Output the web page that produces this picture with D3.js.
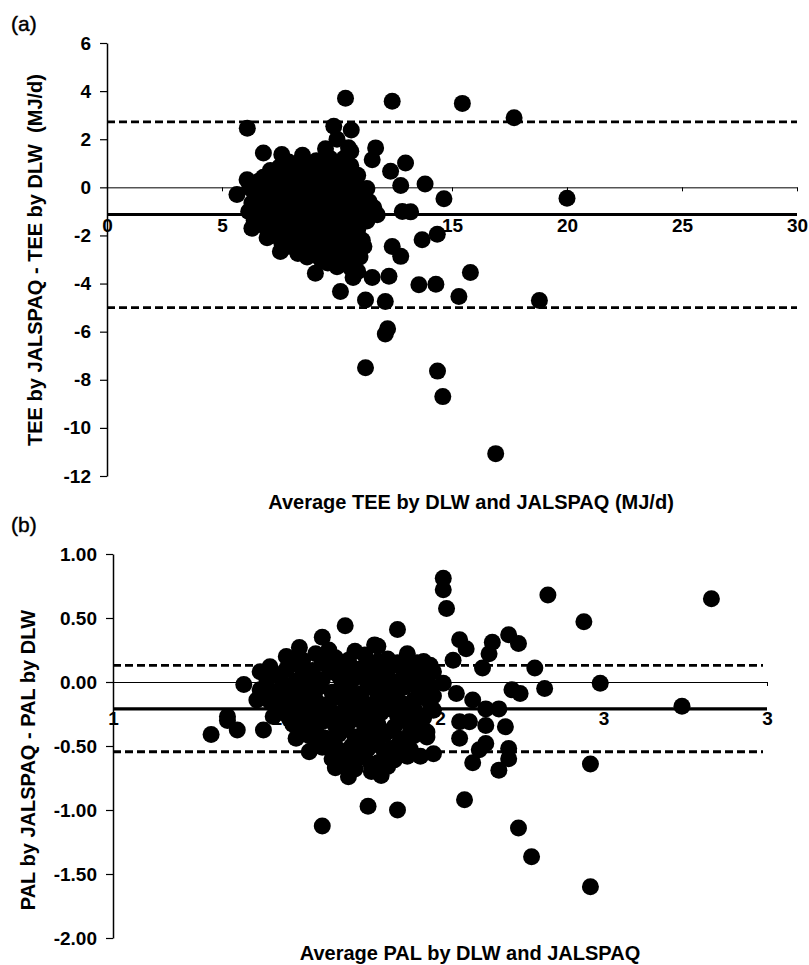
<!DOCTYPE html>
<html>
<head>
<meta charset="utf-8">
<script src="https://cdn.jsdelivr.net/npm/d3@7"></script>
<style>
body { margin: 0; background: #fff; }
svg text { font-family: "Liberation Sans", Arial, Helvetica, sans-serif; fill: #000; }
.tick text { font-weight: bold; font-size: 19px; }
.title { font-weight: bold; font-size: 20px; }
</style>
</head>
<body>
<div id="svgHolderDiv"></div>
<script>
"use strict";

// (a) TEE: [average of DLW and JALSPAQ, JALSPAQ - DLW], MJ/d
var teePoints = [
    [6.1,2.46],[9.86,2.54],[10.37,3.7],[10.62,2.38],[12.4,3.58],[15.45,3.49],[17.7,2.89],[20.0,-0.45],
    [11.68,1.64],[11.53,1.15],[12.98,1.01],[12.33,0.67],[12.77,0.08],[13.83,0.14],[14.65,-0.47],
    [12.84,-1.0],[13.2,-1.02],[11.75,-1.14],[11.3,-1.4],[14.36,-1.95],[13.7,-2.18],[12.4,-2.46],[12.77,-2.87],[11.17,-2.46],
    [10.9,-3.5],[10.7,-3.75],[11.53,-3.75],[12.26,-3.7],[13.56,-4.05],[14.3,-4.03],[15.8,-3.54],[15.3,-4.54],[18.8,-4.7],
    [10.15,-4.33],[9.06,-3.57],[11.24,-4.68],[12.1,-4.75],[12.1,-6.1],[12.2,-5.88],[11.24,-7.5],[14.37,-7.64],[14.6,-8.7],[16.9,-11.07],
    [7.54,-2.67],[6.8,1.43],[7.6,1.36],[8.5,1.33],[6.09,0.32],[5.65,-0.3],[6.16,-1.0],[6.3,-1.7],[6.96,-2.1],
    [10.6,1.5],[11.0,-0.3],[9.5,1.6],[10.5,1.65],[10.0,2.0],[10.3,1.2],
    [7.9,1.05],[8.5,1.15],[9.1,1.1],[9.7,1.2],[10.2,0.95],
    [7.5,0.85],[8.2,0.9],[8.8,0.82],[9.4,0.88],[10.0,0.8],[10.6,0.9],
    [7.1,0.7],[7.6,0.6],[8.1,0.7],[8.7,0.62],[9.2,0.72],[9.8,0.58],[10.4,0.66],[10.9,0.5],
    [6.8,0.42],[7.3,0.38],[7.9,0.45],[8.4,0.4],[9.0,0.36],[9.5,0.42],[10.1,0.4],[10.6,0.35],
    [6.6,0.25],[7.1,0.15],[7.6,0.22],[8.2,0.18],[8.7,0.26],[9.3,0.12],[9.8,0.2],[10.3,0.15],[10.9,0.05],[11.3,-0.05],
    [6.2,-0.02],[6.7,-0.08],[7.2,-0.04],[7.8,-0.06],[8.3,0.0],[8.8,-0.1],[9.4,-0.03],[9.9,-0.07],[10.4,-0.02],[11.0,-0.1],
    [6.4,-0.2],[6.9,-0.3],[7.4,-0.22],[8.0,-0.28],[8.5,-0.18],[9.0,-0.3],[9.6,-0.24],[10.1,-0.35],[10.6,-0.2],[11.2,-0.5],
    [6.5,-0.48],[7.1,-0.52],[7.6,-0.45],[8.1,-0.5],[8.7,-0.47],[9.2,-0.53],[9.7,-0.46],[10.3,-0.5],[10.8,-0.45],[11.4,-0.6],
    [6.3,-0.65],[6.8,-0.75],[7.3,-0.68],[7.8,-0.72],[8.4,-0.6],[8.9,-0.78],[9.4,-0.7],[10.0,-0.66],[10.5,-0.8],[11.0,-0.72],[11.6,-0.85],
    [6.3,-0.95],[6.9,-0.92],[7.4,-0.98],[7.9,-0.94],[8.5,-0.97],[9.0,-0.92],[9.5,-0.96],[10.1,-0.93],[10.6,-0.98],[11.2,-0.95],
    [6.6,-1.2],[7.1,-1.1],[7.6,-1.18],[8.2,-1.12],[8.7,-1.25],[9.2,-1.1],[9.8,-1.2],[10.3,-1.15],[10.8,-1.05],
    [6.4,-1.38],[6.9,-1.42],[7.4,-1.36],[8.0,-1.4],[8.5,-1.38],[9.1,-1.42],[9.6,-1.37],[10.1,-1.4],[10.7,-1.35],
    [6.7,-1.55],[7.2,-1.65],[7.8,-1.58],[8.3,-1.62],[8.8,-1.5],[9.4,-1.68],[9.9,-1.6],[10.4,-1.55],[10.9,-1.75],
    [7.0,-1.85],[7.5,-1.82],[8.1,-1.88],[8.6,-1.84],[9.1,-1.86],[9.7,-1.83],[10.2,-1.87],[10.8,-1.9],
    [7.3,-2.0],[7.9,-2.1],[8.4,-2.05],[8.9,-2.15],[9.5,-2.0],[10.0,-2.1],[10.6,-2.02],[11.1,-2.2],
    [7.6,-2.3],[8.2,-2.28],[8.7,-2.32],[9.3,-2.27],[9.8,-2.33],[10.4,-2.3],[10.9,-2.35],
    [7.9,-2.45],[8.5,-2.55],[9.0,-2.5],[9.6,-2.6],[10.1,-2.48],[10.7,-2.55],
    [8.3,-2.75],[8.9,-2.73],[9.5,-2.78],[10.2,-2.74],[10.8,-2.77],
    [8.7,-2.9],[9.3,-3.0],[9.9,-2.95],[10.5,-3.05],[11.0,-2.9],
    [9.6,-3.15],[10.3,-3.18],
    [10.0,-3.3],[10.6,-3.35]
];
var teeBias = -1.13;
var teeLimits = [2.72, -5.0];
var teeXTicks = [0, 5, 10, 15, 20, 25, 30];
var teeYTicks = [-12, -10, -8, -6, -4, -2, 0, 2, 4, 6];

// (b) PAL: [average of DLW and JALSPAQ, JALSPAQ - DLW]
var palPoints = [
    [1.30,-0.41],[1.35,-0.27],[1.35,-0.30],[1.38,-0.375],[1.46,-0.375],[1.40,-0.02],[1.45,0.08],[1.44,-0.14],[1.49,-0.27],[1.54,-0.19],
    [1.56,-0.44],[1.60,-0.545],[1.68,-0.67],[1.72,-0.74],[1.82,-0.73],[1.64,-1.125],[1.78,-0.97],[1.87,-1.0],[2.075,-0.92],
    [2.24,-1.14],[2.28,-1.365],[2.46,-1.60],[2.46,-0.64],[2.74,-0.19],[2.10,-0.63],[2.12,-0.53],[2.18,-0.69],[2.21,-0.6],[2.21,-0.52],
    [2.20,-0.35],[2.14,-0.34],[2.14,-0.48],[2.06,-0.44],[2.06,-0.31],[2.09,-0.31],[1.94,-0.58],[1.98,-0.56],[1.90,-0.58],[1.85,-0.52],[1.96,-0.43],[1.88,-0.45],
    [2.01,0.81],[2.01,0.72],[2.02,0.575],[2.33,0.68],[2.83,0.65],[2.44,0.47],[1.87,0.41],[1.71,0.44],[1.64,0.35],[1.66,0.25],
    [1.81,0.28],[1.57,0.27],[1.74,0.24],[1.89,0.16],[1.93,0.15],
    [2.06,0.33],[2.08,0.26],[2.16,0.31],[2.21,0.37],[2.24,0.30],[2.15,0.22],[2.04,0.17],[2.13,0.11],[2.29,0.11],[2.49,-0.01],
    [2.32,-0.05],[2.22,-0.06],[2.245,-0.09],[2.05,-0.09],[2.10,-0.14],[2.18,-0.21],[2.14,-0.21],[1.95,0.16],[1.98,0.08],[2.01,-0.01],
    [1.92,-0.14],[1.98,-0.11],[1.97,0.13],[1.80,0.29],
    [1.53,0.2],[1.58,0.17],[1.62,0.22],[1.68,0.19],[1.77,0.21],[1.84,0.18],[1.90,0.22],
    [1.55,0.16],[1.64,0.15],[1.72,0.17],[1.81,0.16],[1.87,0.15],
    [1.48,0.12],[1.53,0.1],[1.57,0.13],[1.61,0.09],[1.66,0.12],[1.70,0.14],[1.75,0.1],[1.79,0.13],[1.84,0.09],[1.88,0.12],[1.93,0.07],
    [1.49,0.07],[1.58,0.06],[1.67,0.08],[1.72,0.07],[1.80,0.06],[1.89,0.08],[1.96,0.05],
    [1.47,0.03],[1.51,0.05],[1.56,0.01],[1.60,0.04],[1.64,0.02],[1.69,0.05],[1.73,0.01],[1.77,0.03],[1.82,0.05],[1.86,0.0],[1.91,0.03],[1.95,0.02],
    [1.47,-0.02],[1.52,-0.01],[1.62,-0.03],[1.70,-0.02],[1.78,-0.01],[1.83,-0.03],[1.92,-0.02],[1.97,-0.03],
    [1.45,-0.06],[1.50,-0.08],[1.54,-0.05],[1.59,-0.07],[1.63,-0.04],[1.67,-0.08],[1.72,-0.06],[1.76,-0.09],[1.80,-0.05],[1.85,-0.07],[1.89,-0.04],[1.94,-0.07],
    [1.46,-0.11],[1.55,-0.1],[1.60,-0.12],[1.69,-0.11],[1.73,-0.1],[1.81,-0.12],[1.86,-0.11],[1.95,-0.12],
    [1.48,-0.15],[1.53,-0.13],[1.57,-0.16],[1.62,-0.14],[1.66,-0.17],[1.70,-0.13],[1.75,-0.15],[1.79,-0.18],[1.83,-0.14],[1.88,-0.16],[1.92,-0.2],[1.97,-0.17],
    [1.50,-0.2],[1.59,-0.19],[1.64,-0.21],[1.72,-0.2],[1.77,-0.19],[1.85,-0.21],[1.90,-0.2],[1.98,-0.22],
    [1.52,-0.24],[1.56,-0.22],[1.61,-0.26],[1.65,-0.23],[1.69,-0.25],[1.74,-0.22],[1.78,-0.27],[1.82,-0.24],[1.87,-0.26],[1.91,-0.23],[1.95,-0.28],
    [1.54,-0.29],[1.58,-0.28],[1.67,-0.3],[1.75,-0.29],[1.80,-0.28],[1.89,-0.3],[1.93,-0.29],
    [1.55,-0.33],[1.60,-0.35],[1.64,-0.31],[1.68,-0.34],[1.72,-0.32],[1.77,-0.36],[1.81,-0.33],[1.86,-0.35],[1.90,-0.31],[1.94,-0.36],
    [1.57,-0.38],[1.62,-0.39],[1.70,-0.38],[1.79,-0.37],[1.84,-0.39],[1.91,-0.38],[1.96,-0.39],
    [1.60,-0.42],[1.65,-0.44],[1.69,-0.41],[1.74,-0.43],[1.79,-0.45],[1.83,-0.41],[1.88,-0.45],[1.92,-0.42],
    [1.62,-0.47],[1.67,-0.48],[1.76,-0.47],[1.81,-0.49],[1.90,-0.48],
    [1.64,-0.51],[1.69,-0.53],[1.73,-0.5],[1.78,-0.52],[1.83,-0.55],[1.87,-0.5],[1.91,-0.53],
    [1.70,-0.56],[1.75,-0.57],[1.84,-0.56],[1.89,-0.55],
    [1.67,-0.6],[1.72,-0.62],[1.77,-0.59],[1.81,-0.63],[1.86,-0.61],
    [1.70,-0.64],[1.79,-0.65],[1.84,-0.66],
    [1.74,-0.68],[1.79,-0.7]
];
var palBias = -0.21;
var palLimits = [0.13, -0.545];
var palXTicks = [1, 1.5, 2, 2.5, 3];
var palYTicks = [-2, -1.5, -1, -0.5, 0, 0.5, 1];

var svg = d3.select("#svgHolderDiv").append("svg")
    .attr("width", 809)
    .attr("height", 965);

function drawPanel(p) {
    var x = d3.scaleLinear().domain(p.xDomain).range(p.xRange),
        y = d3.scaleLinear().domain(p.yDomain).range(p.yRange);
    var g = svg.append("g");

    // y axis
    var yAx = g.append("g")
        .attr("transform", "translate(" + p.xRange[0] + ",0)")
        .call(d3.axisLeft(y).tickValues(p.yTicks).tickSize(7).tickPadding(9)
            .tickSizeOuter(0).tickFormat(p.yFormat));
    yAx.select(".domain").attr("stroke-width", 1.5);
    yAx.selectAll(".tick line").attr("stroke-width", 1.2);

    // thin zero line with ticks
    var zAx = g.append("g")
        .attr("transform", "translate(0," + y(0) + ")")
        .call(d3.axisBottom(x).tickValues(p.xTicks).tickSize(4).tickSizeOuter(0).tickFormat(""));
    zAx.select(".domain").attr("stroke-width", 1);

    // tick labels sit under the mean line
    var lAx = g.append("g")
        .attr("transform", "translate(0," + y(p.bias) + ")")
        .call(d3.axisBottom(x).tickValues(p.xTicks).tickSize(0).tickPadding(p.labelPad).tickFormat(p.xFormat));
    lAx.select(".domain").remove();

    // mean difference
    g.append("line")
        .attr("x1", x(p.xDomain[0])).attr("x2", x(p.xDomain[1]))
        .attr("y1", y(p.bias)).attr("y2", y(p.bias))
        .attr("stroke", "#000").attr("stroke-width", 3.2);

    // limits of agreement
    g.selectAll(".loa")
        .data(p.limits)
        .enter().append("line")
        .attr("class", "loa")
        .attr("x1", x(p.xDomain[0])).attr("x2", p.dashEnd)
        .attr("y1", function (d) { return y(d); })
        .attr("y2", function (d) { return y(d); })
        .attr("stroke", "#000").attr("stroke-width", 2.8)
        .attr("stroke-dasharray", "8,4");

    g.selectAll(".dot")
        .data(p.points)
        .enter().append("circle")
        .attr("class", "dot")
        .attr("cx", function (d) { return x(d[0]); })
        .attr("cy", function (d) { return y(d[1]); })
        .attr("r", 8.5)
        .attr("fill", "#000");

    g.append("text")
        .attr("class", "title")
        .attr("x", p.xTitlePos[0]).attr("y", p.xTitlePos[1])
        .attr("text-anchor", "middle")
        .text(p.xTitle);

    g.append("text")
        .attr("class", "title")
        .attr("transform", "translate(" + p.yTitlePos[0] + "," + p.yTitlePos[1] + ") rotate(-90)")
        .attr("text-anchor", "middle")
        .style("white-space", "pre")
        .text(p.yTitle);

    g.append("text")
        .attr("x", 11).attr("y", p.tagY)
        .attr("font-size", "21px")
        .attr("stroke", "#000").attr("stroke-width", 0.4)
        .text(p.tag);
}

drawPanel({
    points: teePoints, bias: teeBias, limits: teeLimits,
    xTicks: teeXTicks, yTicks: teeYTicks,
    xDomain: [0, 30], xRange: [107, 797],
    yDomain: [-12, 6], yRange: [476, 43],
    xFormat: function (d) { return String(d); },
    yFormat: function (d) { return String(d); },
    labelPad: 4, dashEnd: 797,
    xTitle: "Average TEE by DLW and JALSPAQ (MJ/d)", xTitlePos: [471, 509],
    yTitle: "TEE by JALSPAQ - TEE by DLW  (MJ/d)", yTitlePos: [42, 260],
    tag: "(a)", tagY: 31
});

drawPanel({
    points: palPoints, bias: palBias, limits: palLimits,
    xTicks: palXTicks, yTicks: palYTicks,
    xDomain: [1, 3], xRange: [113, 767],
    yDomain: [-2, 1], yRange: [938, 554],
    xFormat: function (d) { return d.toFixed(0); },
    yFormat: function (d) { return d.toFixed(2); },
    labelPad: 3, dashEnd: 763,
    xTitle: "Average PAL by DLW and JALSPAQ", xTitlePos: [470, 960],
    yTitle: "PAL by JALSPAQ - PAL by DLW", yTitlePos: [35, 760],
    tag: "(b)", tagY: 532
});
</script>
</body>
</html>
